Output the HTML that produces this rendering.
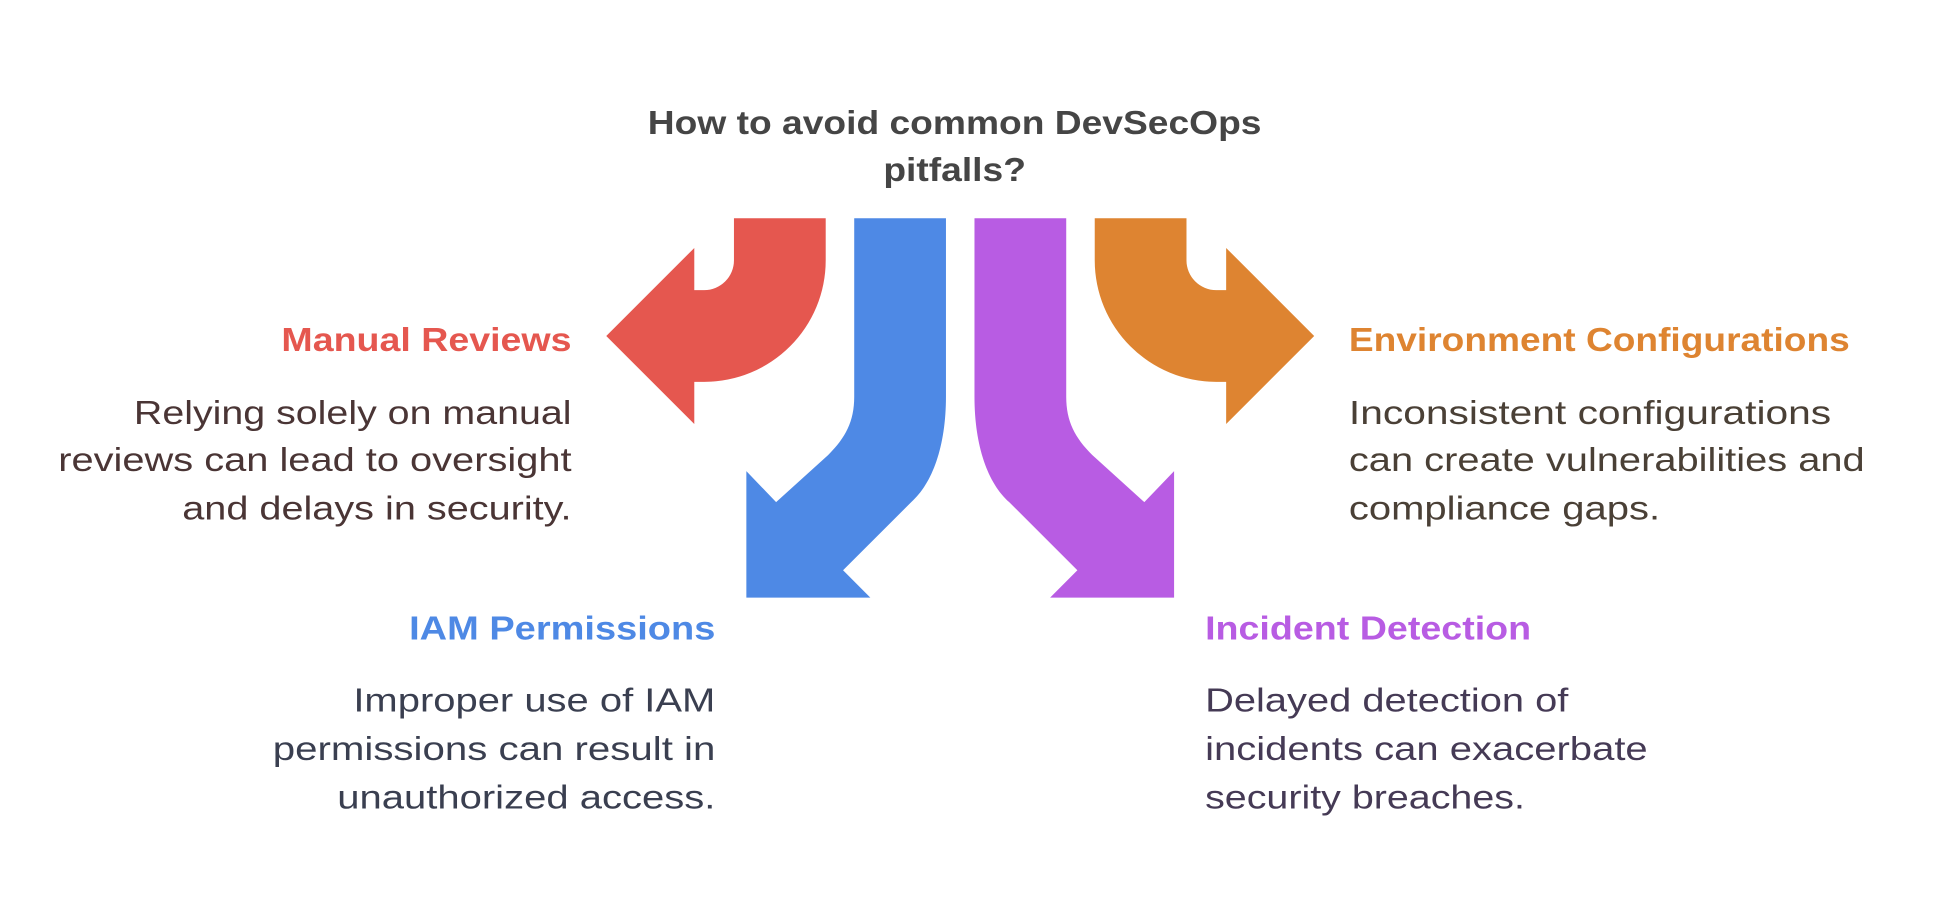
<!DOCTYPE html>
<html><head><meta charset="utf-8"><style>
html,body{margin:0;padding:0;background:#fff;width:1944px;height:912px;overflow:hidden}
svg{display:block}
text{font-family:"Liberation Sans",sans-serif}
.h{font-weight:bold;font-size:27px}
.b{font-size:27px}
</style></head><body>
<svg width="1944" height="912" viewBox="0 0 1568 735.6" xmlns="http://www.w3.org/2000/svg">
<rect width="1568" height="736" fill="#fff"/>
<text class="h" x="770" y="108" text-anchor="middle" fill="#454545" textLength="495" lengthAdjust="spacingAndGlyphs">How to avoid common DevSecOps</text>
<text class="h" x="770" y="146" text-anchor="middle" fill="#454545" textLength="115" lengthAdjust="spacingAndGlyphs">pitfalls?</text>

<path id="red" d="M592,176 H666 V210 A98,98 0 0 1 568,308 H560 V342 L489,271 L560,200 V234 H568 A24,24 0 0 0 592,210 Z" fill="#E5574F"/>
<path d="M592,176 H666 V210 A98,98 0 0 1 568,308 H560 V342 L489,271 L560,200 V234 H568 A24,24 0 0 0 592,210 Z" fill="#DE8431" transform="translate(1549,0) scale(-1,1)"/>
<path d="M689,176 H763 V320 C763,360 752,390 735,405 L680,460 L702,482 H602 V380 L626,405 L668,367 C682,353 689,340 689,320 Z" fill="#4E89E5"/>
<path d="M689,176 H763 V320 C763,360 752,390 735,405 L680,460 L702,482 H602 V380 L626,405 L668,367 C682,353 689,340 689,320 Z" fill="#B85CE3" transform="translate(1549,0) scale(-1,1)"/>

<text class="h" x="461" y="283" text-anchor="end" fill="#E5574F" textLength="234" lengthAdjust="spacingAndGlyphs">Manual Reviews</text>
<g class="b" fill="#4a3535" text-anchor="end">
<text class="b" x="461" y="342" text-anchor="end" fill="#4a3535" textLength="353" lengthAdjust="spacingAndGlyphs">Relying solely on manual</text>
<text class="b" x="461" y="380" text-anchor="end" fill="#4a3535" textLength="414" lengthAdjust="spacingAndGlyphs">reviews can lead to oversight</text>
<text class="b" x="461" y="419" text-anchor="end" fill="#4a3535" textLength="314" lengthAdjust="spacingAndGlyphs">and delays in security.</text>
</g>

<text class="h" x="1088" y="283" fill="#DE8431" textLength="404" lengthAdjust="spacingAndGlyphs">Environment Configurations</text>
<text class="b" x="1088" y="342" fill="#4a4036" textLength="389" lengthAdjust="spacingAndGlyphs">Inconsistent configurations</text>
<text class="b" x="1088" y="380" fill="#4a4036" textLength="416" lengthAdjust="spacingAndGlyphs">can create vulnerabilities and</text>
<text class="b" x="1088" y="419" fill="#4a4036" textLength="251" lengthAdjust="spacingAndGlyphs">compliance gaps.</text>

<text class="h" x="577" y="516" text-anchor="end" fill="#4E89E5" textLength="247" lengthAdjust="spacingAndGlyphs">IAM Permissions</text>
<text class="b" x="577" y="574" text-anchor="end" fill="#3a3f50" textLength="292" lengthAdjust="spacingAndGlyphs">Improper use of IAM</text>
<text class="b" x="577" y="613" text-anchor="end" fill="#3a3f50" textLength="357" lengthAdjust="spacingAndGlyphs">permissions can result in</text>
<text class="b" x="577" y="652" text-anchor="end" fill="#3a3f50" textLength="305" lengthAdjust="spacingAndGlyphs">unauthorized access.</text>

<text class="h" x="972" y="516" fill="#B85CE3" textLength="263" lengthAdjust="spacingAndGlyphs">Incident Detection</text>
<text class="b" x="972" y="574" fill="#453a55" textLength="293" lengthAdjust="spacingAndGlyphs">Delayed detection of</text>
<text class="b" x="972" y="613" fill="#453a55" textLength="357" lengthAdjust="spacingAndGlyphs">incidents can exacerbate</text>
<text class="b" x="972" y="652" fill="#453a55" textLength="258" lengthAdjust="spacingAndGlyphs">security breaches.</text>
</svg>
</body></html>
